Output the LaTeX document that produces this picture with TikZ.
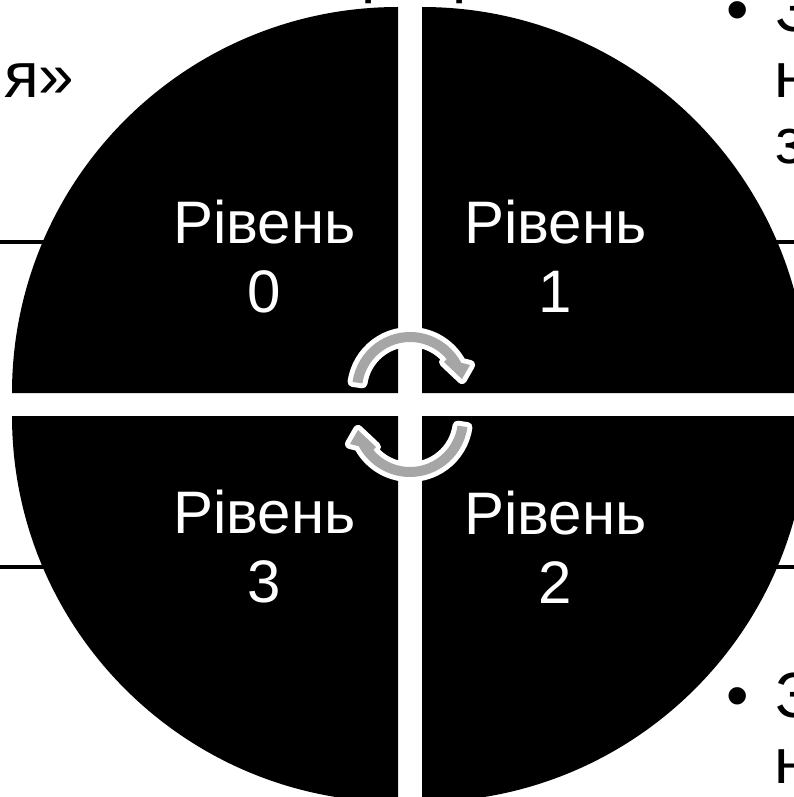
\documentclass[tikz,border=0pt]{standalone}
\usepackage{fontspec}
\setmainfont{Liberation Sans}
\definecolor{arrowgray}{RGB}{166,166,166}
\begin{document}
\begin{tikzpicture}[x=1pt,y=-1pt,
  quad/.style={fill=black},
  lvl/.style={text=white,font=\fontsize{60}{69}\selectfont,align=center,inner sep=0pt},
  side/.style={font=\fontsize{64}{66}\selectfont,inner sep=0pt,anchor=base west},
  rulel/.style={line width=3.5pt},
  cyc/.style={fill=arrowgray,preaction={draw=white,line width=10pt,line join=round}}]
% background / bounding box
\fill[white] (0,0) rectangle (794,797);
\useasboundingbox (0,0) rectangle (794,797);
% background fragments of slide text
\draw[rulel] (0,242) -- (45,242);
\draw[rulel] (0,567) -- (45,567);
\draw[rulel] (772,242) -- (794,242);
\draw[rulel] (772,567) -- (794,567);
\node[side] (ya) at (4,98) {я»};
\node[side] (r1) at (361,-9.5) {р};
\node[side] (r2) at (452,-9.5) {р};
\node[side] (b1) at (726,32) {•};
\node[side] (t1) at (775,32) {З};
\node[side] (t2) at (774,98) {н};
\node[side] (t3) at (775,163) {з};
\node[side] (b2) at (726,717) {•};
\node[side] (t4) at (775,717) {З};
\node[side] (t5) at (774,783) {н};
% quadrants
\fill[quad] (398,393) -- ++(-386,0) arc[start angle=180,end angle=270,radius=386] -- cycle;
\fill[quad] (422,393) -- ++(0,-386) arc[start angle=270,end angle=360,radius=386] -- cycle;
\fill[quad] (422,416) -- ++(386,0) arc[start angle=0,end angle=90,radius=386] -- cycle;
\fill[quad] (398,416) -- ++(0,386) arc[start angle=90,end angle=180,radius=386] -- cycle;
% labels
\node[lvl] (l0) at (264.5,256.5) {Рівень\\0};
\node[lvl] (l1) at (555.5,256.5) {Рівень\\1};
\node[lvl] (l3) at (264.5,547) {Рівень\\3};
\node[lvl] (l2) at (555.5,547) {Рівень\\2};
% circular arrows
\begin{scope}[shift={(410,390)}]
\path[cyc] (188:58) arc[start angle=188,end angle=332,radius=58] -- (60,-25) -- (52,-11) -- (34,-28) -- (320:48) arc[start angle=320,end angle=188,radius=48] -- cycle;
\end{scope}
\begin{scope}[rotate around={180:(410,404.5)}]
\begin{scope}[shift={(410,390)}]
\path[cyc] (188:58) arc[start angle=188,end angle=332,radius=58] -- (60,-25) -- (52,-11) -- (34,-28) -- (320:48) arc[start angle=320,end angle=188,radius=48] -- cycle;
\end{scope}
\end{scope}
\end{tikzpicture}
\end{document}
